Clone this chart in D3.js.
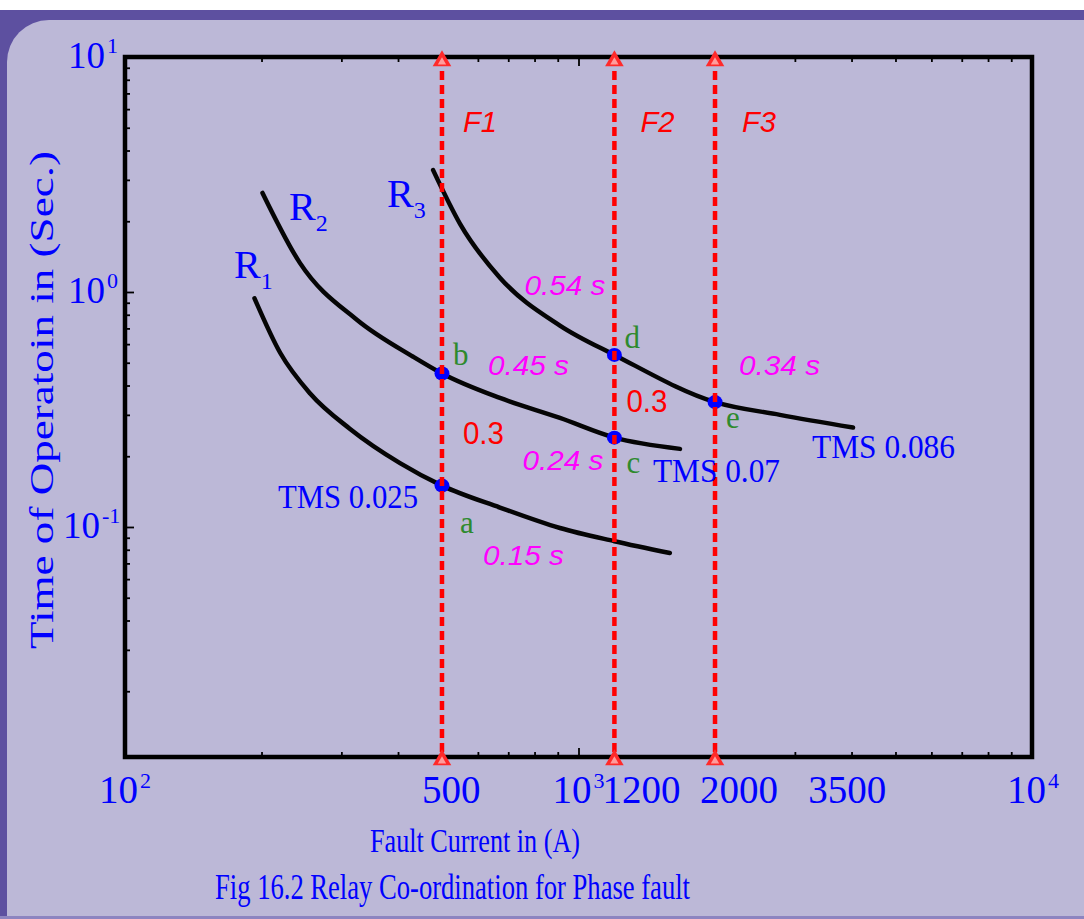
<!DOCTYPE html>
<html><head><meta charset="utf-8">
<script src="https://cdn.jsdelivr.net/npm/d3@7"></script>
<style>body{margin:0;background:#fff;} svg{display:block}</style>
</head><body>
<svg id="chart" width="1084" height="919"></svg>
<script>
// Inverse-time relay characteristics: fault current (A) against operating time (s)
const r1Current = [193, 220, 256, 313, 404, 500, 671, 910, 1200, 1590];
const r1Time    = [0.94, 0.55, 0.37, 0.262, 0.187, 0.15, 0.121, 0.099, 0.087, 0.0775];
const r2Current = [201, 243, 325, 432, 500, 671, 910, 1200, 1674];
const r2Time    = [2.64, 1.33, 0.76, 0.53, 0.45, 0.354, 0.291, 0.24, 0.215];
const r3Current = [478, 548, 671, 910, 1200, 2000, 2780, 4030];
const r3Time    = [3.3, 1.95, 1.15, 0.72, 0.54, 0.34, 0.30, 0.265];

const faultCurrents = [500, 1200, 2000];
const faultNames = ["F1", "F2", "F3"];

const pointNames   = ["a", "b", "c", "d", "e"];
const pointCurrent = [500, 500, 1200, 1200, 2000];
const pointTime    = [0.15, 0.45, 0.24, 0.54, 0.34];
const timeLabels   = ["0.15 s", "0.45 s", "0.24 s", "0.54 s", "0.34 s"];

const relayNames = ["R", "R", "R"];
const relaySubs  = ["1", "2", "3"];
const tmsLabels  = ["TMS 0.025", "TMS 0.07", "TMS 0.086"];
const marginLabel = "0.3";

const xTickValues = [100, 500, 1000, 1200, 2000, 3500, 10000];
const xTickBase   = ["10", "500", "10", "1200", "2000", "3500", "10"];
const xTickSup    = ["2", "", "3", "", "", "", "4"];
const yTickValues = [10, 1, 0.1];
const yTickBase   = ["10", "10", "10"];
const yTickSup    = ["1", "0", "-1"];

const xTitle = "Fault Current in (A)";
const yTitle = "Time of Operatoin in (Sec.)";
const caption = "Fig 16.2 Relay Co-ordination for Phase fault";

const W = 1084, H = 919;
const svg = d3.select("#chart");
const SERIF = "'Liberation Serif','Times New Roman',serif";
const SANS = "'Liberation Sans',Arial,sans-serif";
const BLUE = "#0000ff", RED = "#ff0000", MAG = "#ff00ff", GREEN = "#2e8a2e";
const PANEL = "#bcb8d7";

// Backdrop: purple border with rounded lavender panel
svg.append("rect").attr("x", 0).attr("y", 10).attr("width", W).attr("height", H - 10).attr("fill", "#5d50a0");
svg.append("rect").attr("x", 7).attr("y", 20).attr("width", W - 7 + 40).attr("height", H - 23 + 40)
  .attr("rx", 42).attr("fill", PANEL);
svg.append("rect").attr("x", 7).attr("y", 62).attr("width", W - 7).attr("height", H - 65).attr("fill", PANEL);
svg.append("rect").attr("x", 49).attr("y", 20).attr("width", W - 94).attr("height", H - 23).attr("fill", PANEL);
svg.append("rect").attr("x", 0).attr("y", H - 3).attr("width", W).attr("height", 3).attr("fill", "#8d84c0");

const pL = 125, pR = 1032, pT = 57, pB = 757;
const x = d3.scaleLog().domain([100, 10000]).range([pL, pR]);
const y = d3.scaleLog().domain([0.0105, 10]).range([pB, pT]);

// Minor and major ticks drawn inside the frame
function decadeTicks(lo, hi) {
  const out = [];
  for (let d = lo; d < hi; d *= 10) for (let k = 2; k <= 9; k++) out.push(d * k);
  return out;
}
const xMinor = decadeTicks(100, 10000);
const yMinor = decadeTicks(0.01, 10).filter(v => v >= 0.0105);
function addAxis(axis, tx, ty) {
  const g = svg.append("g").attr("transform", `translate(${tx},${ty})`).call(axis);
  g.select(".domain").remove();
  g.selectAll("text").remove();
  g.selectAll("line").attr("stroke", "#000").attr("stroke-width", 1.8);
}
addAxis(d3.axisRight(y).tickValues(yMinor).tickSize(5), pL, 0);
addAxis(d3.axisRight(y).tickValues(yTickValues).tickSize(9), pL, 0);
addAxis(d3.axisTop(x).tickValues(xMinor).tickSize(5), 0, pB);
addAxis(d3.axisTop(x).tickValues([1000]).tickSize(9), 0, pB);
addAxis(d3.axisBottom(x).tickValues(xMinor).tickSize(5), 0, pT);
addAxis(d3.axisBottom(x).tickValues([1000]).tickSize(9), 0, pT);

// Plot frame
svg.append("rect").attr("x", pL).attr("y", pT).attr("width", pR - pL).attr("height", pB - pT)
  .attr("fill", "none").attr("stroke", "#000").attr("stroke-width", 4.5);

// Relay curves
const line = d3.line().x(d => x(d[0])).y(d => y(d[1])).curve(d3.curveMonotoneX);
[[r1Current, r1Time], [r2Current, r2Time], [r3Current, r3Time]].forEach(([cs, ts]) => {
  svg.append("path").datum(cs.map((c, i) => [c, ts[i]])).attr("d", line)
    .attr("fill", "none").attr("stroke", "#050505").attr("stroke-width", 4.5)
    .attr("stroke-linecap", "round");
});

// Operating points
svg.append("g").selectAll("ellipse").data(pointNames).join("ellipse")
  .attr("cx", (d, i) => x(pointCurrent[i])).attr("cy", (d, i) => y(pointTime[i]))
  .attr("rx", 7.5).attr("ry", 7).attr("fill", BLUE);

// Fault-current markers
faultCurrents.forEach(fc => {
  const fx = x(fc);
  svg.append("line").attr("x1", fx).attr("x2", fx).attr("y1", pT).attr("y2", pB)
    .attr("stroke", RED).attr("stroke-width", 4.5).attr("stroke-dasharray", "9,5");
  [pT + 4, pB + 3].forEach(ty => {
    svg.append("path").attr("d", d3.symbol(d3.symbolTriangle, 150)())
      .attr("transform", `translate(${fx},${ty})`).attr("fill", "#ff2a2a");
    svg.append("path").attr("d", d3.symbol(d3.symbolTriangle, 30)())
      .attr("transform", `translate(${fx},${ty + 1})`).attr("fill", "#ff9c9c");
  });
});

// Fault labels F1..F3
const fOffsets = [[21, 132], [26, 132], [27, 132]];
faultNames.forEach((n, i) => {
  svg.append("text").text(n).attr("x", x(faultCurrents[i]) + fOffsets[i][0]).attr("y", fOffsets[i][1])
    .attr("font-family", SANS).attr("font-style", "italic").attr("font-size", 30).attr("fill", RED)
    .attr("textLength", 34).attr("lengthAdjust", "spacingAndGlyphs");
});

// Operating time labels placed around each point
const tOffsets = [[41, 79], [46, 2], [-92, 32], [-90, -60], [24, -27]];
timeLabels.forEach((t, i) => {
  svg.append("text").text(t)
    .attr("x", x(pointCurrent[i]) + tOffsets[i][0]).attr("y", y(pointTime[i]) + tOffsets[i][1])
    .attr("font-family", SANS).attr("font-style", "italic").attr("font-size", 28).attr("fill", MAG)
    .attr("textLength", 81).attr("lengthAdjust", "spacingAndGlyphs");
});

// Point letters
const lOffsets = [[18, 47], [11, -8], [12, 35], [10, -7], [11, 26]];
pointNames.forEach((n, i) => {
  svg.append("text").text(n)
    .attr("x", x(pointCurrent[i]) + lOffsets[i][0]).attr("y", y(pointTime[i]) + lOffsets[i][1])
    .attr("font-family", SERIF).attr("font-size", 31).attr("fill", GREEN);
});

// Coordination margins between successive relays
[[500, 0.45, 21, 71], [1200, 0.54, 12, 57]].forEach(([c, t, dx, dy]) => {
  svg.append("text").text(marginLabel).attr("x", x(c) + dx).attr("y", y(t) + dy)
    .attr("font-family", SANS).attr("font-size", 31).attr("fill", RED)
    .attr("textLength", 41).attr("lengthAdjust", "spacingAndGlyphs");
});

// TMS labels
const tmsPos = [[278, 508, 140], [653, 482, 127], [812, 458, 143]];
tmsLabels.forEach((t, i) => {
  svg.append("text").text(t).attr("x", tmsPos[i][0]).attr("y", tmsPos[i][1])
    .attr("font-family", SERIF).attr("font-size", 34).attr("fill", BLUE)
    .attr("textLength", tmsPos[i][2]).attr("lengthAdjust", "spacingAndGlyphs");
});

// Relay names with subscripts
const rPos = [[234, 278], [289, 220], [387, 207]];
relayNames.forEach((r, i) => {
  const t = svg.append("text").attr("x", rPos[i][0]).attr("y", rPos[i][1])
    .attr("font-family", SERIF).attr("fill", BLUE);
  t.append("tspan").text(r).attr("font-size", 40);
  t.append("tspan").text(relaySubs[i]).attr("font-size", 24).attr("dy", 11);
});

// Axis tick labels
function expLabel(tx, ty, base, sup, size) {
  const t = svg.append("text").attr("x", tx).attr("y", ty).attr("font-family", SERIF).attr("fill", BLUE);
  t.append("tspan").text(base).attr("font-size", size);
  if (sup) t.append("tspan").text(sup).attr("font-size", 22).attr("dy", -15).attr("dx", 2);
}
const xLabelShift = [-26, -20, -26, -12, -15, -17, -25];
xTickValues.forEach((v, i) => expLabel(x(v) + xLabelShift[i], 803, xTickBase[i], xTickSup[i], 39));
const yLabelX = [68, 68, 63];
yTickValues.forEach((v, i) => expLabel(yLabelX[i], y(v) + 11, yTickBase[i], yTickSup[i], 37));

// Titles
svg.append("text").text(xTitle).attr("x", 370).attr("y", 852)
  .attr("font-family", SERIF).attr("font-size", 34).attr("fill", BLUE)
  .attr("textLength", 210).attr("lengthAdjust", "spacingAndGlyphs");
svg.append("text").text(yTitle).attr("transform", "translate(53,400) rotate(-90)")
  .attr("text-anchor", "middle").attr("font-family", SERIF).attr("font-size", 33).attr("fill", BLUE)
  .attr("textLength", 498).attr("lengthAdjust", "spacingAndGlyphs");
svg.append("text").text(caption).attr("x", 215).attr("y", 899)
  .attr("font-family", SERIF).attr("font-size", 36).attr("fill", BLUE)
  .attr("textLength", 475).attr("lengthAdjust", "spacingAndGlyphs");
</script>
</body></html>
